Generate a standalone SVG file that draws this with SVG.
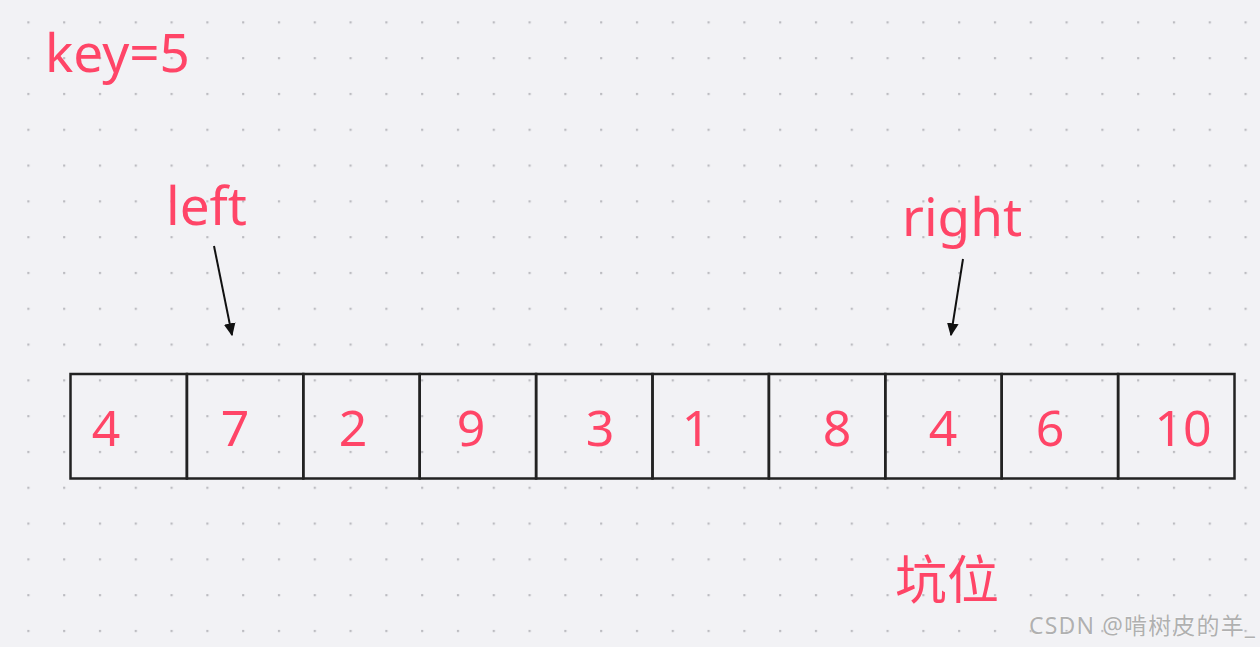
<svg xmlns="http://www.w3.org/2000/svg" width="1260" height="647" viewBox="0 0 1260 647">
<style>
.lbl{font-family:"Noto Sans","Noto Sans CJK SC",sans-serif;fill:#ff4567;}
.num{font-family:"Noto Sans",sans-serif;font-size:50px;fill:#ff4567;text-anchor:middle;}
.cell{fill:none;stroke:#222;stroke-width:2.5;}
.conn{stroke:#111;stroke-width:2;fill:none;marker-end:url(#ah);}
</style>
<defs>
<pattern id="dots" patternUnits="userSpaceOnUse" x="27.3" y="21.3" width="35.8" height="35.8">
<rect x="0" y="0" width="2.2" height="2.2" fill="#bcbcc1"/>
</pattern>
<marker id="ah" viewBox="0 0 10 10" refX="9" refY="5" markerWidth="6.5" markerHeight="6.5" orient="auto" markerUnits="strokeWidth">
<path d="M0,0.5 L10,5 L0,9.5 z" fill="#111"/>
</marker>
</defs>
<rect width="1260" height="647" fill="#f2f2f5"/>
<rect width="1260" height="647" fill="url(#dots)"/>
<g id="title"><text class="lbl" x="45" y="72" font-size="53">key=5</text></g>
<g id="left-label"><text class="lbl" x="166" y="225" font-size="53">left</text></g>
<g id="right-label"><text class="lbl" x="902" y="236" font-size="53">right</text></g>
<g id="array">
<rect class="cell" x="70.5" y="374" width="116.4" height="104.5"/>
<rect class="cell" x="186.9" y="374" width="116.4" height="104.5"/>
<rect class="cell" x="303.3" y="374" width="116.4" height="104.5"/>
<rect class="cell" x="419.7" y="374" width="116.4" height="104.5"/>
<rect class="cell" x="536.1" y="374" width="116.4" height="104.5"/>
<rect class="cell" x="652.5" y="374" width="116.4" height="104.5"/>
<rect class="cell" x="768.9" y="374" width="116.4" height="104.5"/>
<rect class="cell" x="885.3" y="374" width="116.4" height="104.5"/>
<rect class="cell" x="1001.7" y="374" width="116.4" height="104.5"/>
<rect class="cell" x="1118.1" y="374" width="116.4" height="104.5"/>
<text class="num" x="106" y="446">4</text>
<text class="num" x="235" y="446">7</text>
<text class="num" x="353" y="446">2</text>
<text class="num" x="471" y="446">9</text>
<text class="num" x="600" y="446">3</text>
<text class="num" x="696" y="446">1</text>
<text class="num" x="837" y="446">8</text>
<text class="num" x="943" y="446">4</text>
<text class="num" x="1050" y="446">6</text>
<text class="num" x="1183" y="446">10</text>
</g>
<g id="pit"><text class="lbl" x="895" y="599" font-size="52" style="font-family:'Noto Sans CJK SC',sans-serif">坑位</text></g>
<g id="connectors">
<line class="conn" x1="214" y1="246" x2="232" y2="335"/>
<line class="conn" x1="963" y1="259" x2="951" y2="335"/>
</g>
<g id="watermark"><text x="1029" y="634" font-size="23" fill="#b0b0b0" stroke="#ffffff" stroke-width="0.6" paint-order="stroke" textLength="226" lengthAdjust="spacing" style="font-family:'Noto Sans','Noto Sans CJK SC',sans-serif">CSDN @啃树皮的羊_</text></g>
</svg>
